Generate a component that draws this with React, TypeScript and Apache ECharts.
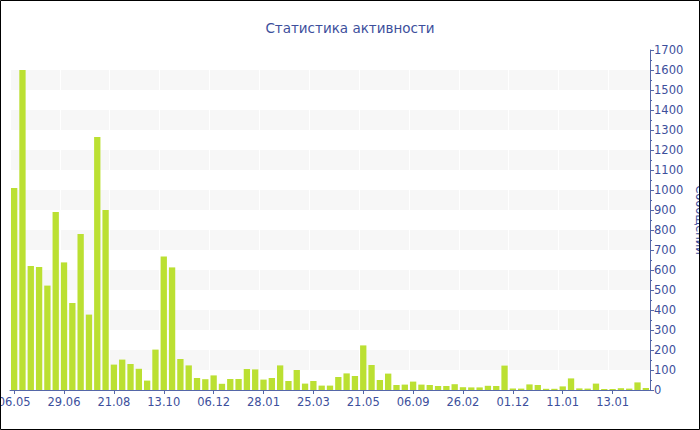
import React, { useEffect, useRef } from "react";
import * as echarts from "echarts";

const categories: string[] = [
  "06.05", "15.05", "24.05", "02.06", "11.06", "20.06", "29.06", "08.07", "17.07", "26.07",
  "04.08", "12.08", "21.08", "30.08", "08.09", "17.09", "26.09", "04.10", "13.10", "22.10",
  "31.10", "09.11", "18.11", "27.11", "06.12", "14.12", "23.12", "01.01", "10.01", "19.01",
  "28.01", "06.02", "15.02", "24.02", "05.03", "15.03", "25.03", "03.04", "12.04", "21.04",
  "01.05", "11.05", "21.05", "08.06", "26.06", "15.07", "01.08", "19.08", "06.09", "05.10",
  "03.11", "02.12", "31.12", "29.01", "26.02", "13.04", "29.05", "14.07", "29.08", "14.10",
  "01.12", "08.12", "16.12", "22.12", "29.12", "05.01", "11.01", "13.03", "13.05", "13.07",
  "12.09", "13.11", "13.01", "14.03", "14.05", "16.07", "14.09",
];

const messages: number[] = [
  1010, 1600, 620, 615, 522, 890, 638, 435, 780, 377,
  1265, 900, 127, 152, 130, 106, 47, 202, 667, 613,
  155, 123, 60, 54, 73, 31, 55, 55, 105, 103,
  52, 60, 123, 45, 100, 32, 45, 22, 22, 65,
  83, 70, 223, 125, 50, 82, 25, 27, 42, 27,
  25, 20, 20, 29, 14, 13, 13, 21, 20, 122,
  7, 7, 28, 25, 6, 6, 18, 58, 8, 7,
  32, 5, 5, 9, 7, 38, 10,
];

const titleText = "Статистика активности";
const yAxisName = "Сообщений";

const textColor = "#3d4f9c";
const lineColor = "#5567a8";
const barColor = "#bbe032";

export default function App() {
  const ref = useRef<HTMLDivElement>(null);

  useEffect(() => {
    document.body.style.margin = "0";
    if (!ref.current) return;
    const chart = echarts.init(ref.current, undefined, { renderer: "svg" });
    chart.setOption({
      animation: false,
      backgroundColor: "#ffffff",
      textStyle: { fontFamily: "DejaVu Sans" },
      title: {
        text: titleText,
        left: "center",
        top: 16,
        textStyle: {
          color: textColor,
          fontSize: 13.5,
          fontWeight: "normal",
          fontFamily: "DejaVu Sans",
        },
      },
      graphic: [
        {
          type: "rect",
          shape: { x: 0.5, y: 0.5, width: 699, height: 429 },
          style: { fill: "none", stroke: "#000000", lineWidth: 1 },
          z: 100,
          silent: true,
        },
      ],
      grid: {
        left: 10,
        right: 50,
        top: 50,
        bottom: 40,
        containLabel: false,
        outerBoundsMode: "none",
      },
      xAxis: {
        type: "category",
        data: categories,
        boundaryGap: true,
        axisLine: { show: true, lineStyle: { color: lineColor, width: 1 } },
        axisTick: {
          show: true,
          alignWithLabel: true,
          interval: 5,
          length: 4,
          lineStyle: { color: lineColor },
        },
        axisLabel: {
          interval: 5,
          color: textColor,
          fontSize: 11.5,
          fontFamily: "DejaVu Sans",
          margin: 6,
          hideOverlap: false,
        },
        splitLine: {
          show: true,
          interval: 5,
          lineStyle: { color: "#ffffff", width: 1 },
        },
      },
      yAxis: {
        type: "value",
        position: "right",
        min: 0,
        max: 1700,
        interval: 100,
        name: yAxisName,
        nameLocation: "middle",
        nameRotate: -90,
        nameGap: 40,
        nameTextStyle: { color: textColor, fontSize: 11.5, fontFamily: "DejaVu Sans" },
        axisLine: { show: true, lineStyle: { color: lineColor, width: 1 } },
        axisTick: { show: true, length: 4, lineStyle: { color: lineColor } },
        minorTick: { show: true, splitNumber: 2, length: 2, lineStyle: { color: lineColor } },
        axisLabel: {
          color: textColor,
          fontSize: 11.5,
          fontFamily: "DejaVu Sans",
          margin: 4,
          formatter: (v: number) => String(v),
        },
        splitLine: { show: false },
        splitArea: {
          show: true,
          areaStyle: { color: ["rgba(255,255,255,0)", "#f7f7f7"] },
        },
      },
      series: [
        {
          type: "bar",
          data: messages,
          barCategoryGap: "24%",
          itemStyle: { color: barColor },
        },
      ],
    });
    return () => chart.dispose();
  }, []);

  return <div ref={ref} style={{ width: 700, height: 430 }} />;
}
